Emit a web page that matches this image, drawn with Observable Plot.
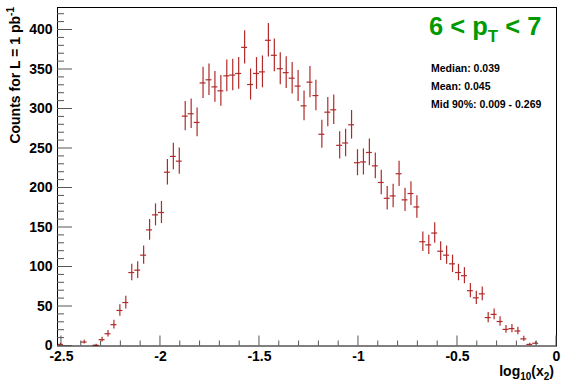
<!DOCTYPE html>
<html><head><meta charset="utf-8">
<script src="https://cdn.jsdelivr.net/npm/d3@7"></script>
<script src="https://cdn.jsdelivr.net/npm/@observablehq/plot@0.6"></script>
<style>
html,body{margin:0;padding:0;background:#fff;}
#chart{width:567px;height:384px;}
</style></head><body><div id="chart"></div>
<script>
// Histogram binning (log10(x2)), 84 bins of width 0.03 starting at -2.52
const binStart = -2.52;
const binWidth = 0.03;
// Counts per bin
const counts = [
  2, 0, 0, 0, 5, 0, 1, 8, 15.5, 27,
  45, 55, 93, 96, 115, 147, 166, 169, 220, 240,
  234, 291, 294, 283, 333, 337, 328, 323, 342, 343,
  345, 378, 331, 345, 347, 387, 368, 351, 346, 339,
  329, 304, 334, 317, 268, 296, 299, 254, 257, 280,
  232, 233, 245, 228, 207, 187, 190, 218, 185, 193,
  176, 132, 128, 143, 120, 115, 104, 93, 89, 70,
  61, 66, 36, 40, 31, 21, 22, 19, 9, 2,
  3.5, 0, 0, 0
];
// per-event weight (statistical error = sqrt(weight * counts))
const eventWeight = 1.17;

const xMajorTicks = [-2.5, -2, -1.5, -1, -0.5, 0];
const xTickLabels = ["-2.5", "-2", "-1.5", "-1", "-0.5", "0"];
const yMajorTicks = [0, 50, 100, 150, 200, 250, 300, 350, 400];
const yTickLabels = ["0", "50", "100", "150", "200", "250", "300", "350", "400"];
const titleParts = ["6 < p", "T", " < 7"];
const statLines = ["Median: 0.039", "Mean: 0.045", "Mid 90%: 0.009 - 0.269"];
const yLabelParts = ["Counts for L = 1 pb", "-1"];
const xLabelParts = ["log", "10", "(x", "2", ")"];

const xDomain = [binStart, 0];
const yDomain = [0, 428.5];

const bins = counts.map((c, i) => ({
  lo: binStart + i * binWidth,
  hi: binStart + (i + 1) * binWidth,
  x: binStart + (i + 0.5) * binWidth,
  y: c,
  err: Math.sqrt(c * eventWeight)
})).filter(d => d.y > 0);

const xMinor = d3.range(0, 26).map(k => -2.5 + k * 0.1).filter(v => xMajorTicks.every(m => Math.abs(m - v) > 1e-6));
const yMinor = d3.range(0, 43).map(k => k * 10).filter(v => v % 50 !== 0);

const W = 567, H = 384, ML = 57, MR = 11, MT = 7, MB = 38.5;

const red = "#b02a2a";
const tickColor = "#555";

const chart = Plot.plot({
  width: W,
  height: H,
  marginLeft: ML,
  marginRight: MR,
  marginTop: MT,
  marginBottom: MB,
  x: {domain: xDomain, label: null},
  y: {domain: yDomain, label: null},
  style: {fontFamily: "'Liberation Sans', Arial, Helvetica, sans-serif", fontSize: "14px", fontWeight: "bold", background: "white", color: "black", overflow: "visible"},
  marks: [
    Plot.axisX(xMajorTicks, {tickSize: 0, tickPadding: 5, tickFormat: d => xTickLabels[xMajorTicks.indexOf(d)], label: null, fill: "black"}),
    Plot.axisY(yMajorTicks, {tickSize: 0, tickPadding: 5, tickFormat: d => yTickLabels[yMajorTicks.indexOf(d)], label: null, fill: "black"}),
    // error bars
    Plot.ruleX(bins, {x: "x", y1: d => d.y - d.err, y2: d => d.y + d.err, stroke: red, strokeWidth: 1.2}),
    Plot.ruleY(bins, {y: "y", x1: "lo", x2: "hi", stroke: red, strokeWidth: 1.2}),
    Plot.frame({stroke: "black", strokeWidth: 1})
  ]
});
document.getElementById("chart").appendChild(chart);

const svg = d3.select(chart);
const ff = "'Liberation Sans', Arial, Helvetica, sans-serif";
const xs = chart.scale("x"), ys = chart.scale("y");
const x0 = xs.apply(xDomain[0]), y0 = ys.apply(yDomain[0]);

// inward tick marks, positioned through Plot's scales
const tg = svg.append("g").attr("class", "ticks");
function xTicks(vals, len) {
  vals.forEach(v => {
    const px = xs.apply(v);
    tg.append("line")
      .attr("x1", px).attr("x2", px)
      .attr("y1", y0).attr("y2", y0 - len)
      .attr("stroke", tickColor).attr("stroke-width", 1);
  });
}
function yTicks(vals, len) {
  vals.forEach(v => {
    const py = ys.apply(v);
    tg.append("line")
      .attr("y1", py).attr("y2", py)
      .attr("x1", x0).attr("x2", x0 + len)
      .attr("stroke", tickColor).attr("stroke-width", 1);
  });
}
xTicks(xMinor, 5);
xTicks(xMajorTicks, 10);
yTicks(yMinor, 7);
yTicks(yMajorTicks, 15);

// Y axis title (rotated, end-aligned at top)
const yl = svg.append("text")
  .attr("transform", "translate(20,7) rotate(-90)")
  .attr("text-anchor", "end")
  .attr("font-family", ff).attr("font-weight", "bold").attr("font-size", 14).attr("fill", "black");
yl.append("tspan").text(yLabelParts[0]);
yl.append("tspan").attr("font-size", 10).attr("dy", -6).text(yLabelParts[1]);

// X axis title
const xl = svg.append("text")
  .attr("x", 554).attr("y", 376)
  .attr("text-anchor", "end")
  .attr("font-family", ff).attr("font-weight", "bold").attr("font-size", 14).attr("fill", "black");
xl.append("tspan").text(xLabelParts[0]);
xl.append("tspan").attr("font-size", 10).attr("dy", 4).text(xLabelParts[1]);
xl.append("tspan").attr("dy", -4).text(xLabelParts[2]);
xl.append("tspan").attr("font-size", 10).attr("dy", 4).text(xLabelParts[3]);
xl.append("tspan").attr("dy", -4).text(xLabelParts[4]);

// Title
const tt = svg.append("text")
  .attr("x", 429).attr("y", 35)
  .attr("text-anchor", "start")
  .attr("font-family", ff).attr("font-weight", "bold").attr("font-size", 25.5).attr("fill", "#009900");
tt.append("tspan").text(titleParts[0]);
tt.append("tspan").attr("font-size", 17).attr("dy", 7).text(titleParts[1]);
tt.append("tspan").attr("dy", -7).text(titleParts[2]);

// Stats
svg.append("g").selectAll("text").data(statLines).join("text")
  .attr("x", 431).attr("y", (d, i) => 71.7 + i * 18.2)
  .attr("text-anchor", "start")
  .attr("font-family", ff).attr("font-weight", "bold").attr("font-size", 10.5).attr("fill", "black")
  .text(d => d);
</script>
</body></html>
